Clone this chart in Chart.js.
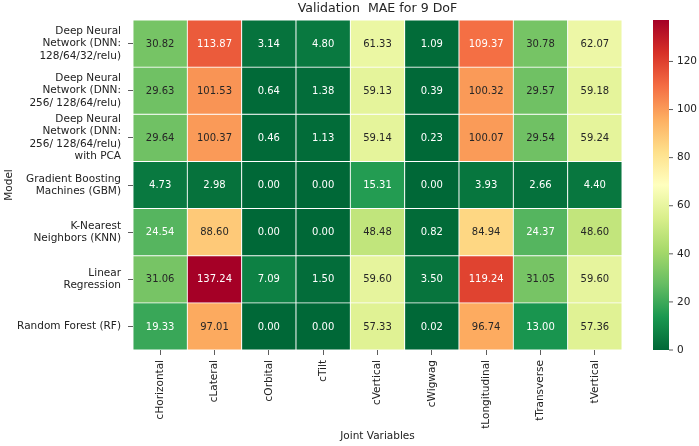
<!DOCTYPE html>
<html lang="en">
<head>
<meta charset="UTF-8">
<title>Validation MAE for 9 DoF</title>
<script src="https://cdn.jsdelivr.net/npm/chart.js@4.4.1/dist/chart.umd.min.js"></script>
<style>
  body { margin: 0; background: #fff; }
  #wrap { width: 699px; height: 446px; }
</style>
</head>
<body>
<div id="wrap"><canvas id="heatmap" width="699" height="446"></canvas></div>
<script>
// Columns: joint variables
const joints = ['cHorizontal', 'cLateral', 'cOrbital', 'cTilt', 'cVertical', 'cWigwag', 'tLongitudinal', 'tTransverse', 'tVertical'];

// Rows: models (labels split into lines like the original)
const models = [
    ['Deep Neural', 'Network (DNN:', '128/64/32/relu)'],
    ['Deep Neural', 'Network (DNN:', '256/ 128/64/relu)'],
    ['Deep Neural', 'Network (DNN:', '256/ 128/64/relu)', 'with PCA'],
    ['Gradient Boosting', 'Machines (GBM)'],
    ['K-Nearest', 'Neighbors (KNN)'],
    ['Linear', 'Regression'],
    ['Random Forest (RF)']
];

// MAE values per model, one entry per joint
const maeDnn1   = [30.82, 113.87, 3.14, 4.80, 61.33, 1.09, 109.37, 30.78, 62.07];
const maeDnn2   = [29.63, 101.53, 0.64, 1.38, 59.13, 0.39, 100.32, 29.57, 59.18];
const maeDnnPca = [29.64, 100.37, 0.46, 1.13, 59.14, 0.23, 100.07, 29.54, 59.24];
const maeGbm    = [4.73, 2.98, 0.00, 0.00, 15.31, 0.00, 3.93, 2.66, 4.40];
const maeKnn    = [24.54, 88.60, 0.00, 0.00, 48.48, 0.82, 84.94, 24.37, 48.60];
const maeLinear = [31.06, 137.24, 7.09, 1.50, 59.60, 3.50, 119.24, 31.05, 59.60];
const maeRf     = [19.33, 97.01, 0.00, 0.00, 57.33, 0.02, 96.74, 13.00, 57.36];

const colorbarTicks = [0, 20, 40, 60, 80, 100, 120];

const rows = [maeDnn1, maeDnn2, maeDnnPca, maeGbm, maeKnn, maeLinear, maeRf];
const vmin = Math.min(...rows.flat());
const vmax = Math.max(...rows.flat());

const FONT = "'DejaVu Sans', sans-serif";

// RdYlGn reversed (green -> yellow -> red)
const cmapHex = ['#006837', '#1a9850', '#66bd63', '#a6d96a', '#d9ef8b', '#ffffbf',
                 '#fee08b', '#fdae61', '#f46d43', '#d73027', '#a50026'];
const cmapRgb = cmapHex.map(h => [1, 3, 5].map(i => parseInt(h.substr(i, 2), 16)));

function cmap(v) {
    const t = (v - vmin) / (vmax - vmin) * (cmapRgb.length - 1);
    const k = Math.min(Math.floor(t), cmapRgb.length - 2);
    const f = t - k;
    return cmapRgb[k].map((c, i) => Math.round(c + (cmapRgb[k + 1][i] - c) * f));
}

function luminance(rgb) {
    const lin = c => {
        c /= 255;
        return c <= 0.03928 ? c / 12.92 : Math.pow((c + 0.055) / 1.055, 2.4);
    };
    return 0.2126 * lin(rgb[0]) + 0.7152 * lin(rgb[1]) + 0.0722 * lin(rgb[2]);
}

const rgbStr = c => `rgb(${c[0]},${c[1]},${c[2]})`;

// fixed axis sizes so the plot area lands where the original has it
function fixSize(prop, size) {
    return s => {
        s[prop] = size;
        s.paddingTop = 0;
        s.paddingBottom = 0;
        s.paddingLeft = 0;
        s.paddingRight = 0;
    };
}

// Cell annotations, colorbar and title
const heatmapExtras = {
    id: 'heatmapExtras',
    afterDatasetsDraw(chart) {
        const ctx = chart.ctx;
        const area = chart.chartArea;
        ctx.save();

        ctx.font = `10px ${FONT}`;
        ctx.textAlign = 'center';
        ctx.textBaseline = 'middle';
        chart.data.datasets.forEach((ds, i) => {
            chart.getDatasetMeta(i).data.forEach((bar, j) => {
                const v = ds.mae[j];
                ctx.fillStyle = luminance(cmap(v)) > 0.408 ? '#262626' : '#ffffff';
                ctx.fillText(v.toFixed(2), bar.x, (bar.y + bar.base) / 2 + 0.5);
            });
        });

        // colorbar
        const cb = chart.scales.cbar;
        const x0 = area.right + 31;
        const w = 16;
        const yTop = cb.getPixelForValue(vmax);
        const yBot = cb.getPixelForValue(vmin);
        const grad = ctx.createLinearGradient(0, yBot, 0, yTop);
        cmapHex.forEach((c, k) => grad.addColorStop(k / (cmapHex.length - 1), c));
        ctx.fillStyle = grad;
        ctx.fillRect(x0, yTop, w, yBot - yTop);

        ctx.strokeStyle = '#333';
        ctx.lineWidth = 0.8;
        colorbarTicks.forEach(t => {
            const y = cb.getPixelForValue(t);
            ctx.beginPath();
            ctx.moveTo(x0 + w, y);
            ctx.lineTo(x0 + w + 4, y);
            ctx.stroke();
        });

        // title centred over the heatmap
        ctx.fillStyle = '#262626';
        ctx.font = `12.6px ${FONT}`;
        ctx.fillText('Validation  MAE for 9 DoF', (area.left + area.right) / 2, 9);

        ctx.restore();
    }
};

new Chart(document.getElementById('heatmap'), {
    type: 'bar',
    data: {
        labels: joints,
        datasets: rows.map((vals, i) => ({
            label: models[i].join(' '),
            data: vals.map(() => 1),
            mae: vals,
            backgroundColor: vals.map(v => rgbStr(cmap(v))),
            borderColor: '#ffffff',
            borderWidth: 0.8,
            borderSkipped: false,
            barPercentage: 1,
            categoryPercentage: 1
        }))
    },
    options: {
        responsive: false,
        animation: false,
        layout: { padding: { top: 20, left: 0, right: 0, bottom: 0 } },
        plugins: {
            legend: { display: false },
            tooltip: { enabled: false }
        },
        scales: {
            x: {
                stacked: true,
                afterFit: fixSize('height', 96),
                ticks: {
                    autoSkip: false,
                    minRotation: 90,
                    maxRotation: 90,
                    padding: 5,
                    color: '#222',
                    font: { family: FONT, size: 10.5 }
                },
                grid: { display: true, offset: false, drawOnChartArea: false, drawTicks: true, tickLength: 5, color: '#333', lineWidth: 0.8 },
                border: { display: false },
                title: { display: true, text: 'Joint Variables', color: '#222', font: { family: FONT, size: 10.5 }, padding: { top: 0, bottom: 3 } }
            },
            y: {
                stacked: true,
                reverse: true,
                min: 0,
                max: models.length,
                afterBuildTicks: s => { s.ticks = models.map((m, i) => ({ value: i + 0.5 })); },
                afterFit: fixSize('width', 133),
                ticks: {
                    autoSkip: false,
                    padding: 7,
                    color: '#222',
                    font: { family: FONT, size: 10.5, lineHeight: 1.17 },
                    callback: (v, i) => models[i]
                },
                grid: { display: true, drawOnChartArea: false, drawTicks: true, tickLength: 5, color: '#333', lineWidth: 0.8 },
                border: { display: false },
                title: { display: true, text: 'Model', color: '#222', font: { family: FONT, size: 10.5 }, padding: { top: 3, bottom: 0 } }
            },
            cbar: {
                axis: 'y',
                type: 'linear',
                position: 'right',
                min: vmin,
                max: vmax,
                afterBuildTicks: s => { s.ticks = colorbarTicks.map(v => ({ value: v })); },
                afterFit: fixSize('width', 77),
                ticks: { padding: 47, color: '#222', font: { family: FONT, size: 10.5 } },
                grid: { display: false },
                border: { display: false }
            }
        }
    },
    plugins: [heatmapExtras]
});
</script>
</body>
</html>
